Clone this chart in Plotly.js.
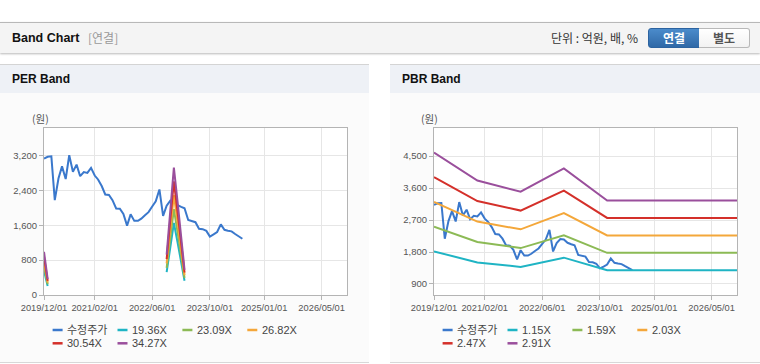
<!DOCTYPE html>
<html>
<head>
<meta charset="utf-8">
<script src="https://cdn.plot.ly/plotly-3.0.1.min.js"></script>
<style>
  html, body { margin:0; padding:0; background:#fff; width:760px; height:364px; overflow:hidden;
    font-family:"Liberation Sans","Noto Sans CJK KR",sans-serif; }
  .topbar { position:absolute; left:0; top:22px; width:760px; height:30px; background:#f4f4f4;
    border-top:1px solid #b8b8b8; box-shadow:0 1px 2px rgba(0,0,0,0.28); }
  .topbar .ttl { position:absolute; left:12px; top:0; line-height:30px; font-size:12.5px; font-weight:bold; color:#111; }
  .topbar .sub { position:absolute; left:88px; top:0; line-height:30px; font-size:12px; color:#999;
    font-family:"Noto Sans CJK KR",sans-serif; }
  .topbar .unit { position:absolute; left:551px; top:0; line-height:30px; font-size:12px; color:#333;
    font-family:"Noto Sans CJK KR",sans-serif; }
  .btn { position:absolute; top:5px; height:18px; line-height:18px; text-align:center; font-size:12px; font-weight:bold;
    font-family:"Noto Sans CJK KR",sans-serif; box-sizing:content-box; }
  .btn.on { left:648px; width:50px; background:linear-gradient(#4b8bcb,#2f69a7); color:#fff; border:1px solid #2c63a0;
    border-radius:3px 0 0 3px; }
  .btn.off { left:699px; width:50px; background:linear-gradient(#fff,#f2f2f2); color:#555; border:1px solid #b8b8b8;
    border-left:none; border-radius:0 3px 3px 0; }
  .panel { position:absolute; top:64px; height:297px; background:#fbfbfb; border-top:1px solid #d4d4d4;
    border-bottom:1px solid #d8d8d8; }
  .panel .hd { position:absolute; left:0; top:0; right:0; height:28px; background:#eef1f6; }
  .panel .hd span { position:absolute; left:12px; top:0; line-height:29px; font-size:12px; font-weight:bold; color:#111; }
  .chart { position:absolute; top:28px; left:0; width:370px; height:269px; }
</style>
</head>
<body>
<div class="topbar">
  <div class="ttl">Band Chart</div>
  <div class="sub">[연결]</div>
  <div class="unit">단위 : 억원, 배, %</div>
  <div class="btn on">연결</div>
  <div class="btn off">별도</div>
</div>
<div class="panel" style="left:0;width:369px;">
  <div class="hd"><span>PER Band</span></div>
  <div id="per" class="chart"></div>
</div>
<div class="panel" style="left:390px;width:370px;">
  <div class="hd"><span>PBR Band</span></div>
  <div id="pbr" class="chart"></div>
</div>
<script>
// ---------- data ----------
const priceDates = [
  '2019-12-01',
  '2020-01-01','2020-02-01','2020-03-01','2020-04-01','2020-05-01','2020-06-01',
  '2020-07-01','2020-08-01','2020-09-01','2020-10-01','2020-11-01','2020-12-01',
  '2021-01-01','2021-02-01','2021-03-01','2021-04-01','2021-05-01','2021-06-01',
  '2021-07-01','2021-08-01','2021-09-01','2021-10-01','2021-11-01','2021-12-01',
  '2022-01-01','2022-02-01','2022-03-01','2022-04-01','2022-05-01','2022-06-01',
  '2022-07-01','2022-08-01','2022-09-01','2022-10-01','2022-11-01','2022-12-01',
  '2023-01-01','2023-02-01','2023-03-01','2023-04-01','2023-05-01','2023-06-01',
  '2023-07-01','2023-08-01','2023-09-01','2023-10-01','2023-11-01','2023-12-01',
  '2024-01-01','2024-02-01','2024-03-01','2024-04-01','2024-05-01','2024-06-01','2024-07-01'
];
const price = [
  3130,3170,3180,2175,2670,2950,2660,3205,2825,2990,2725,2820,2800,
  2915,2740,2650,2500,2305,2295,2175,1985,1980,1860,1590,1850,
  1700,1700,1750,1830,1900,2030,2150,2420,1815,2050,2165,2150,
  2060,2020,1990,1720,1700,1670,1520,1510,1470,1340,1390,1445,
  1620,1495,1475,1460,1400,1335,1290
];

// PER bands (null where EPS is negative)
const perDates = ['2019-12-01','2020-01-01','2020-02-01',
  '2022-10-01','2022-11-01','2022-12-01','2023-01-01','2023-02-01','2023-03-01'];
const perNames = ['수정주가','19.36X','23.09X','26.82X','30.54X','34.27X'];
const per1936 = [560, 205, null, 523, 1086, 1651, 1210, 769, 327];
const per2309 = [667, 245, null, 623, 1295, 1970, 1443, 917, 390];
const per2682 = [775, 284, null, 724, 1505, 2288, 1676, 1065, 453];
const per3054 = [883, 324, null, 825, 1713, 2605, 1909, 1212, 516];
const per3427 = [990, 363, null, 925, 1923, 2923, 2142, 1361, 579];

// PBR bands
const pbrDates = ['2019-12-01','2020-12-01','2021-12-01','2022-12-01','2023-12-01','2026-12-01'];
const pbrNames = ['수정주가','1.15X','1.59X','2.03X','2.47X','2.91X'];
const pbr115 = [1818, 1505, 1381, 1641, 1285, 1285];
const pbr159 = [2514, 2081, 1910, 2269, 1776, 1776];
const pbr203 = [3209, 2657, 2438, 2897, 2267, 2267];
const pbr247 = [3905, 3233, 2966, 3525, 2759, 2759];
const pbr291 = [4600, 3810, 3496, 4154, 3250, 3250];

// axis ticks
const xTickVals = ['2019-12-01','2021-02-01','2022-06-01','2023-10-01','2025-01-01','2026-05-01'];
const xTickText = ['2019/12/01','2021/02/01','2022/06/01','2023/10/01','2025/01/01','2026/05/01'];
const perYTicks = [0, 800, 1600, 2400, 3200];
const perYText = ['0','800','1,600','2,400','3,200'];
const pbrYTicks = [900, 1800, 2700, 3600, 4500];
const pbrYText = ['900','1,800','2,700','3,600','4,500'];

const colors = ['#3a78cc','#1fb4c4','#8cba55','#f4a73a','#d4302a','#9a4f9c'];

// ---------- chart builder ----------
const W = 370, H = 269, M = {l:44, r:23, t:35, b:67};
const PW = W - M.l - M.r, PH = H - M.t - M.b;
const FONT = 'Liberation Sans, Noto Sans CJK KR, sans-serif';

function px2x(p){ return (p - M.l) / PW; }
function py2y(p){ return (M.t + PH - p) / PH; }

function legendParts(names){
  const shapes = [], ann = [];
  const rowsY = [237, 250.3];
  names.forEach((n, i) => {
    const row = i < 4 ? 0 : 1;
    const col = i < 4 ? i : i - 4;
    const sx = M.l + 8.6 + 64.9 * col;
    const y = py2y(rowsY[row]);
    shapes.push({type:'line', xref:'paper', yref:'paper', x0:px2x(sx), x1:px2x(sx+10),
      y0:y, y1:y, line:{color:colors[i], width:2.5}});
    ann.push({xref:'paper', yref:'paper', x:px2x(sx+12.5), y:y, xanchor:'left', yanchor:'middle',
      showarrow:false, text:n, font:{family:FONT, size:11, color:'#444'}});
  });
  return {shapes, ann};
}

function makeLayout(yRange, yTicks, yText, names, unitX){
  const lg = legendParts(names);
  lg.ann.push({xref:'paper', yref:'paper', x:px2x(unitX), y:py2y(25.3), xanchor:'center', yanchor:'middle',
    showarrow:false, text:'(원)', font:{family:'Noto Sans CJK KR, sans-serif', size:10.5, color:'#555'}});
  return {
    width:W, height:H, margin:M,
    paper_bgcolor:'rgba(0,0,0,0)', plot_bgcolor:'#ffffff',
    showlegend:false,
    xaxis:{type:'date', range:['2019-12-01','2026-12-01'], tickvals:xTickVals, ticktext:xTickText,
      showgrid:true, gridcolor:'#e6e6e6', gridwidth:1, showline:true, linecolor:'#b4b4b4', linewidth:1, mirror:true,
      ticks:'outside', ticklen:4, tickcolor:'#b4b4b4', zeroline:false,
      tickfont:{family:FONT, size:9.3, color:'#555'}, fixedrange:true},
    yaxis:{range:yRange, tickvals:yTicks, ticktext:yText,
      showgrid:true, gridcolor:'#e6e6e6', gridwidth:1, showline:true, linecolor:'#b4b4b4', linewidth:1, mirror:true,
      ticks:'outside', ticklen:4, tickcolor:'#b4b4b4', zeroline:false,
      tickfont:{family:FONT, size:9.5, color:'#555'}, fixedrange:true},
    shapes:lg.shapes, annotations:lg.ann
  };
}

function tr(x, y, name, color){
  return {type:'scatter', mode:'lines', x:x, y:y, name:name, connectgaps:false,
    line:{color:color, width:2}, hoverinfo:'skip'};
}

const perData = [
  tr(priceDates, price, perNames[0], colors[0]),
  tr(perDates, per1936, perNames[1], colors[1]),
  tr(perDates, per2309, perNames[2], colors[2]),
  tr(perDates, per2682, perNames[3], colors[3]),
  tr(perDates, per3054, perNames[4], colors[4]),
  tr(perDates, per3427, perNames[5], colors[5])
];
const pbrData = [
  tr(priceDates, price, pbrNames[0], colors[0]),
  tr(pbrDates, pbr115, pbrNames[1], colors[1]),
  tr(pbrDates, pbr159, pbrNames[2], colors[2]),
  tr(pbrDates, pbr203, pbrNames[3], colors[3]),
  tr(pbrDates, pbr247, pbrNames[4], colors[4]),
  tr(pbrDates, pbr291, pbrNames[5], colors[5])
];

Plotly.newPlot('per', perData, makeLayout([0, 3830], perYTicks, perYText, perNames, 40), {staticPlot:true, displayModeBar:false});
Plotly.newPlot('pbr', pbrData, makeLayout([590, 5290], pbrYTicks, pbrYText, pbrNames, 39), {staticPlot:true, displayModeBar:false});
</script>
</body>
</html>
